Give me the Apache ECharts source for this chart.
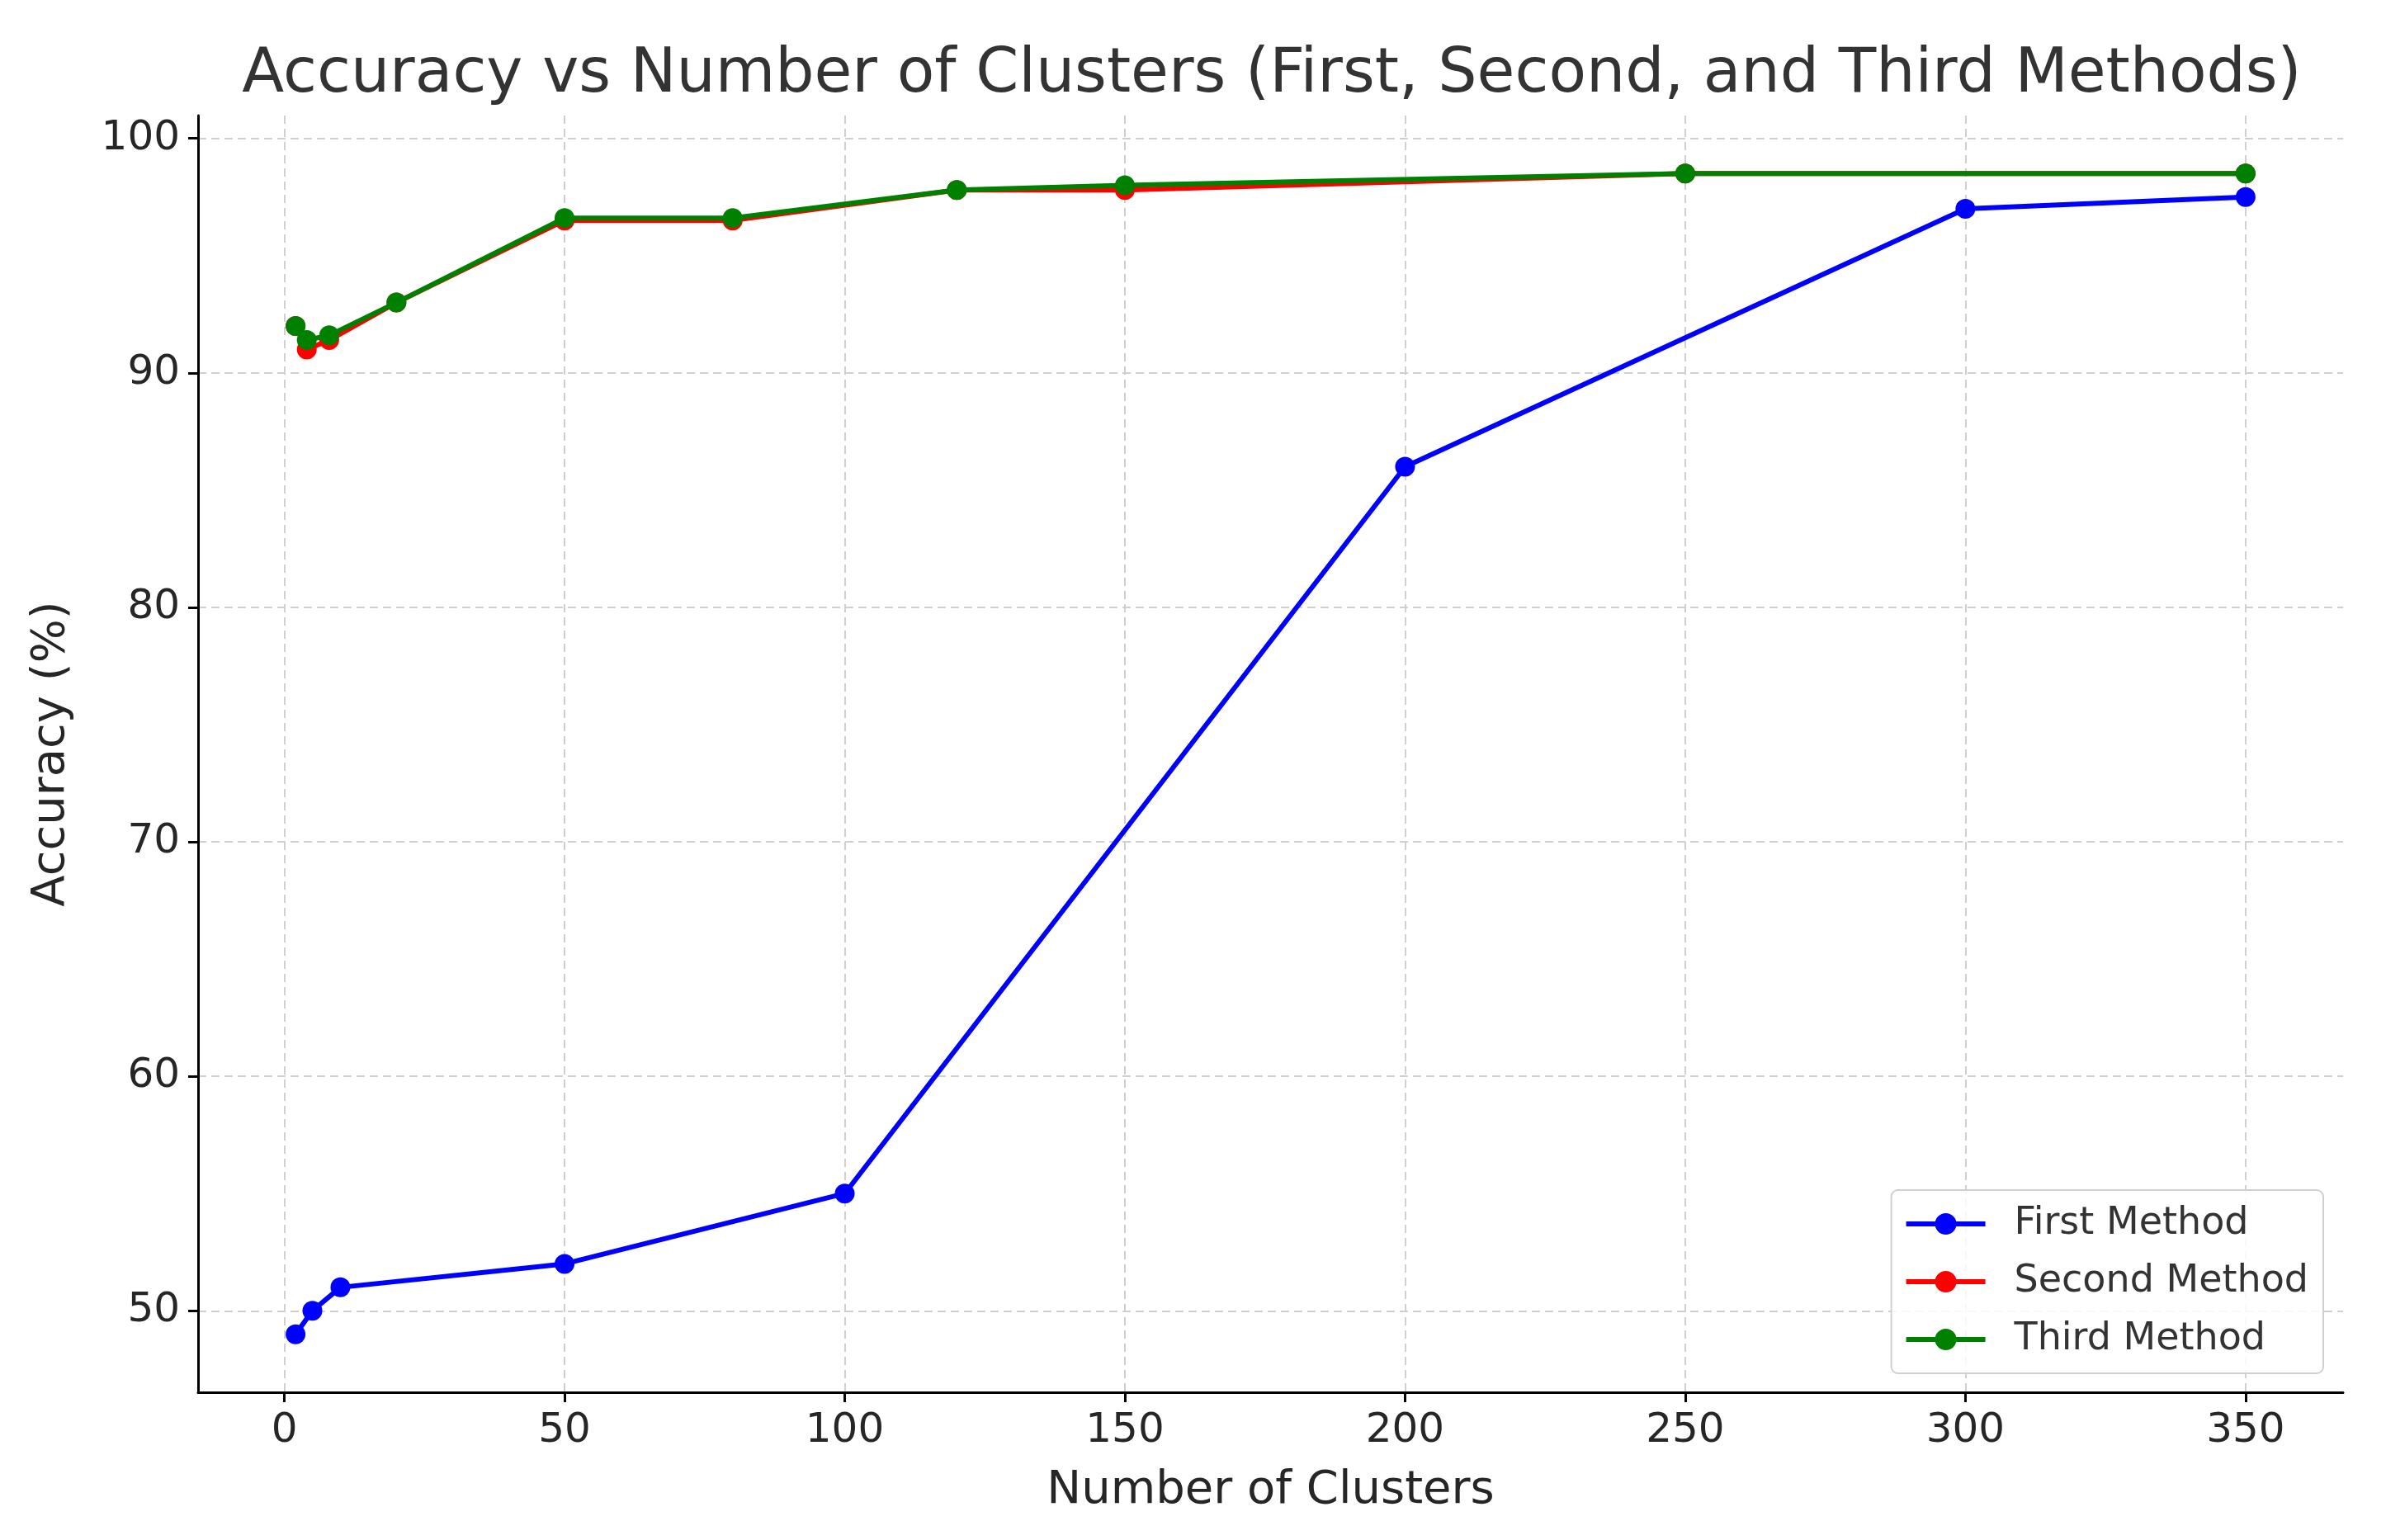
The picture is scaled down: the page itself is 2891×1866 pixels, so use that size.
<!DOCTYPE html>
<html><head><meta charset="utf-8">
<script src="https://cdn.jsdelivr.net/npm/echarts@6/dist/echarts.min.js"></script>
<style>html,body{margin:0;padding:0;background:#fff}#c{width:2891px;height:1866px}</style>
</head><body><div id="c"></div>
<script>
const firstX = [2, 5, 10, 50, 100, 200, 300, 350];
const firstY = [49, 50, 51, 52, 55, 86, 97, 97.5];
const secondX = [2, 4, 8, 20, 50, 80, 120, 150, 250, 350];
const secondY = [92, 91, 91.4, 93, 96.5, 96.5, 97.8, 97.8, 98.5, 98.5];
const thirdX = [2, 4, 8, 20, 50, 80, 120, 150, 250, 350];
const thirdY = [92, 91.4, 91.6, 93, 96.6, 96.6, 97.8, 98, 98.5, 98.5];
const xTicks = [0, 50, 100, 150, 200, 250, 300, 350];
const yTicks = [50, 60, 70, 80, 90, 100];

const pairs = (xs, ys) => xs.map((x, i) => [x, ys[i]]);
const font = 'DejaVu Sans';
const txt = '#262626';
const legendIcon = 'path://M0,10 L37,10 L37,16 L0,16 Z M35,13 A13,13 0 1 1 61,13 A13,13 0 1 1 35,13 Z M59,10 L96,10 L96,16 L59,16 Z';
const chart = echarts.init(document.getElementById('c'), null, {renderer: 'canvas'});
function mk(name, color, xs, ys, z) {
  return {
    name, type: 'line', data: pairs(xs, ys), z,
    symbol: 'circle', symbolSize: 24,
    lineStyle: {color, width: 6},
    itemStyle: {color},
    animation: false
  };
}
chart.setOption({
  backgroundColor: '#fff',
  animation: false,
  title: {
    text: 'Accuracy vs Number of Clusters (First, Second, and Third Methods)',
    left: 1536, top: 87, textAlign: 'center', textVerticalAlign: 'middle',
    textStyle: {fontFamily: font, fontSize: 74.5, fontWeight: 'normal', color: '#333'}
  },
  grid: {left: 240, right: 2891 - 2839, top: 140, bottom: 1866 - 1687, containLabel: false},
  legend: {
    right: 2891 - 2815, top: 1442, orient: 'vertical',
    padding: [18, 18, 18, 18], itemGap: 24,
    itemWidth: 96, itemHeight: 26, icon: legendIcon,
    borderColor: '#d0d0d0', borderWidth: 2, borderRadius: 8, backgroundColor: 'rgba(255,255,255,0.85)',
    textStyle: {fontFamily: font, fontSize: 46, color: '#333', padding: [0, 0, 0, 30]},
    data: ['First Method', 'Second Method', 'Third Method']
  },
  xAxis: {
    type: 'value', min: -15.4, max: 367.4,
    name: 'Number of Clusters', nameLocation: 'middle', nameGap: 91,
    nameTextStyle: {fontFamily: font, fontSize: 56, color: txt},
    axisLine: {show: true, onZero: false, lineStyle: {color: '#000', width: 3}},
    axisTick: {show: true, length: 12, customValues: xTicks, lineStyle: {color: '#000', width: 3}},
    axisLabel: {customValues: xTicks, margin: 22, fontFamily: font, fontSize: 50, color: txt},
    splitLine: {show: true, lineStyle: {color: '#cfcfcf', width: 2, type: [10, 6]}}
  },
  yAxis: {
    type: 'value', min: 46.525, max: 100.975,
    name: 'Accuracy (%)', nameLocation: 'middle', nameGap: 150, nameRotate: 90,
    nameTextStyle: {fontFamily: font, fontSize: 56, color: txt},
    axisLine: {show: true, onZero: false, lineStyle: {color: '#000', width: 3}},
    axisTick: {show: true, length: 12, customValues: yTicks, lineStyle: {color: '#000', width: 3}},
    axisLabel: {customValues: yTicks, margin: 22, fontFamily: font, fontSize: 50, color: txt},
    splitLine: {show: true, lineStyle: {color: '#cfcfcf', width: 2, type: [10, 6]}}
  },
  series: [
    mk('First Method', '#0000ff', firstX, firstY, 2),
    mk('Second Method', '#ff0000', secondX, secondY, 3),
    mk('Third Method', '#008000', thirdX, thirdY, 4)
  ]
});
</script></body></html>
